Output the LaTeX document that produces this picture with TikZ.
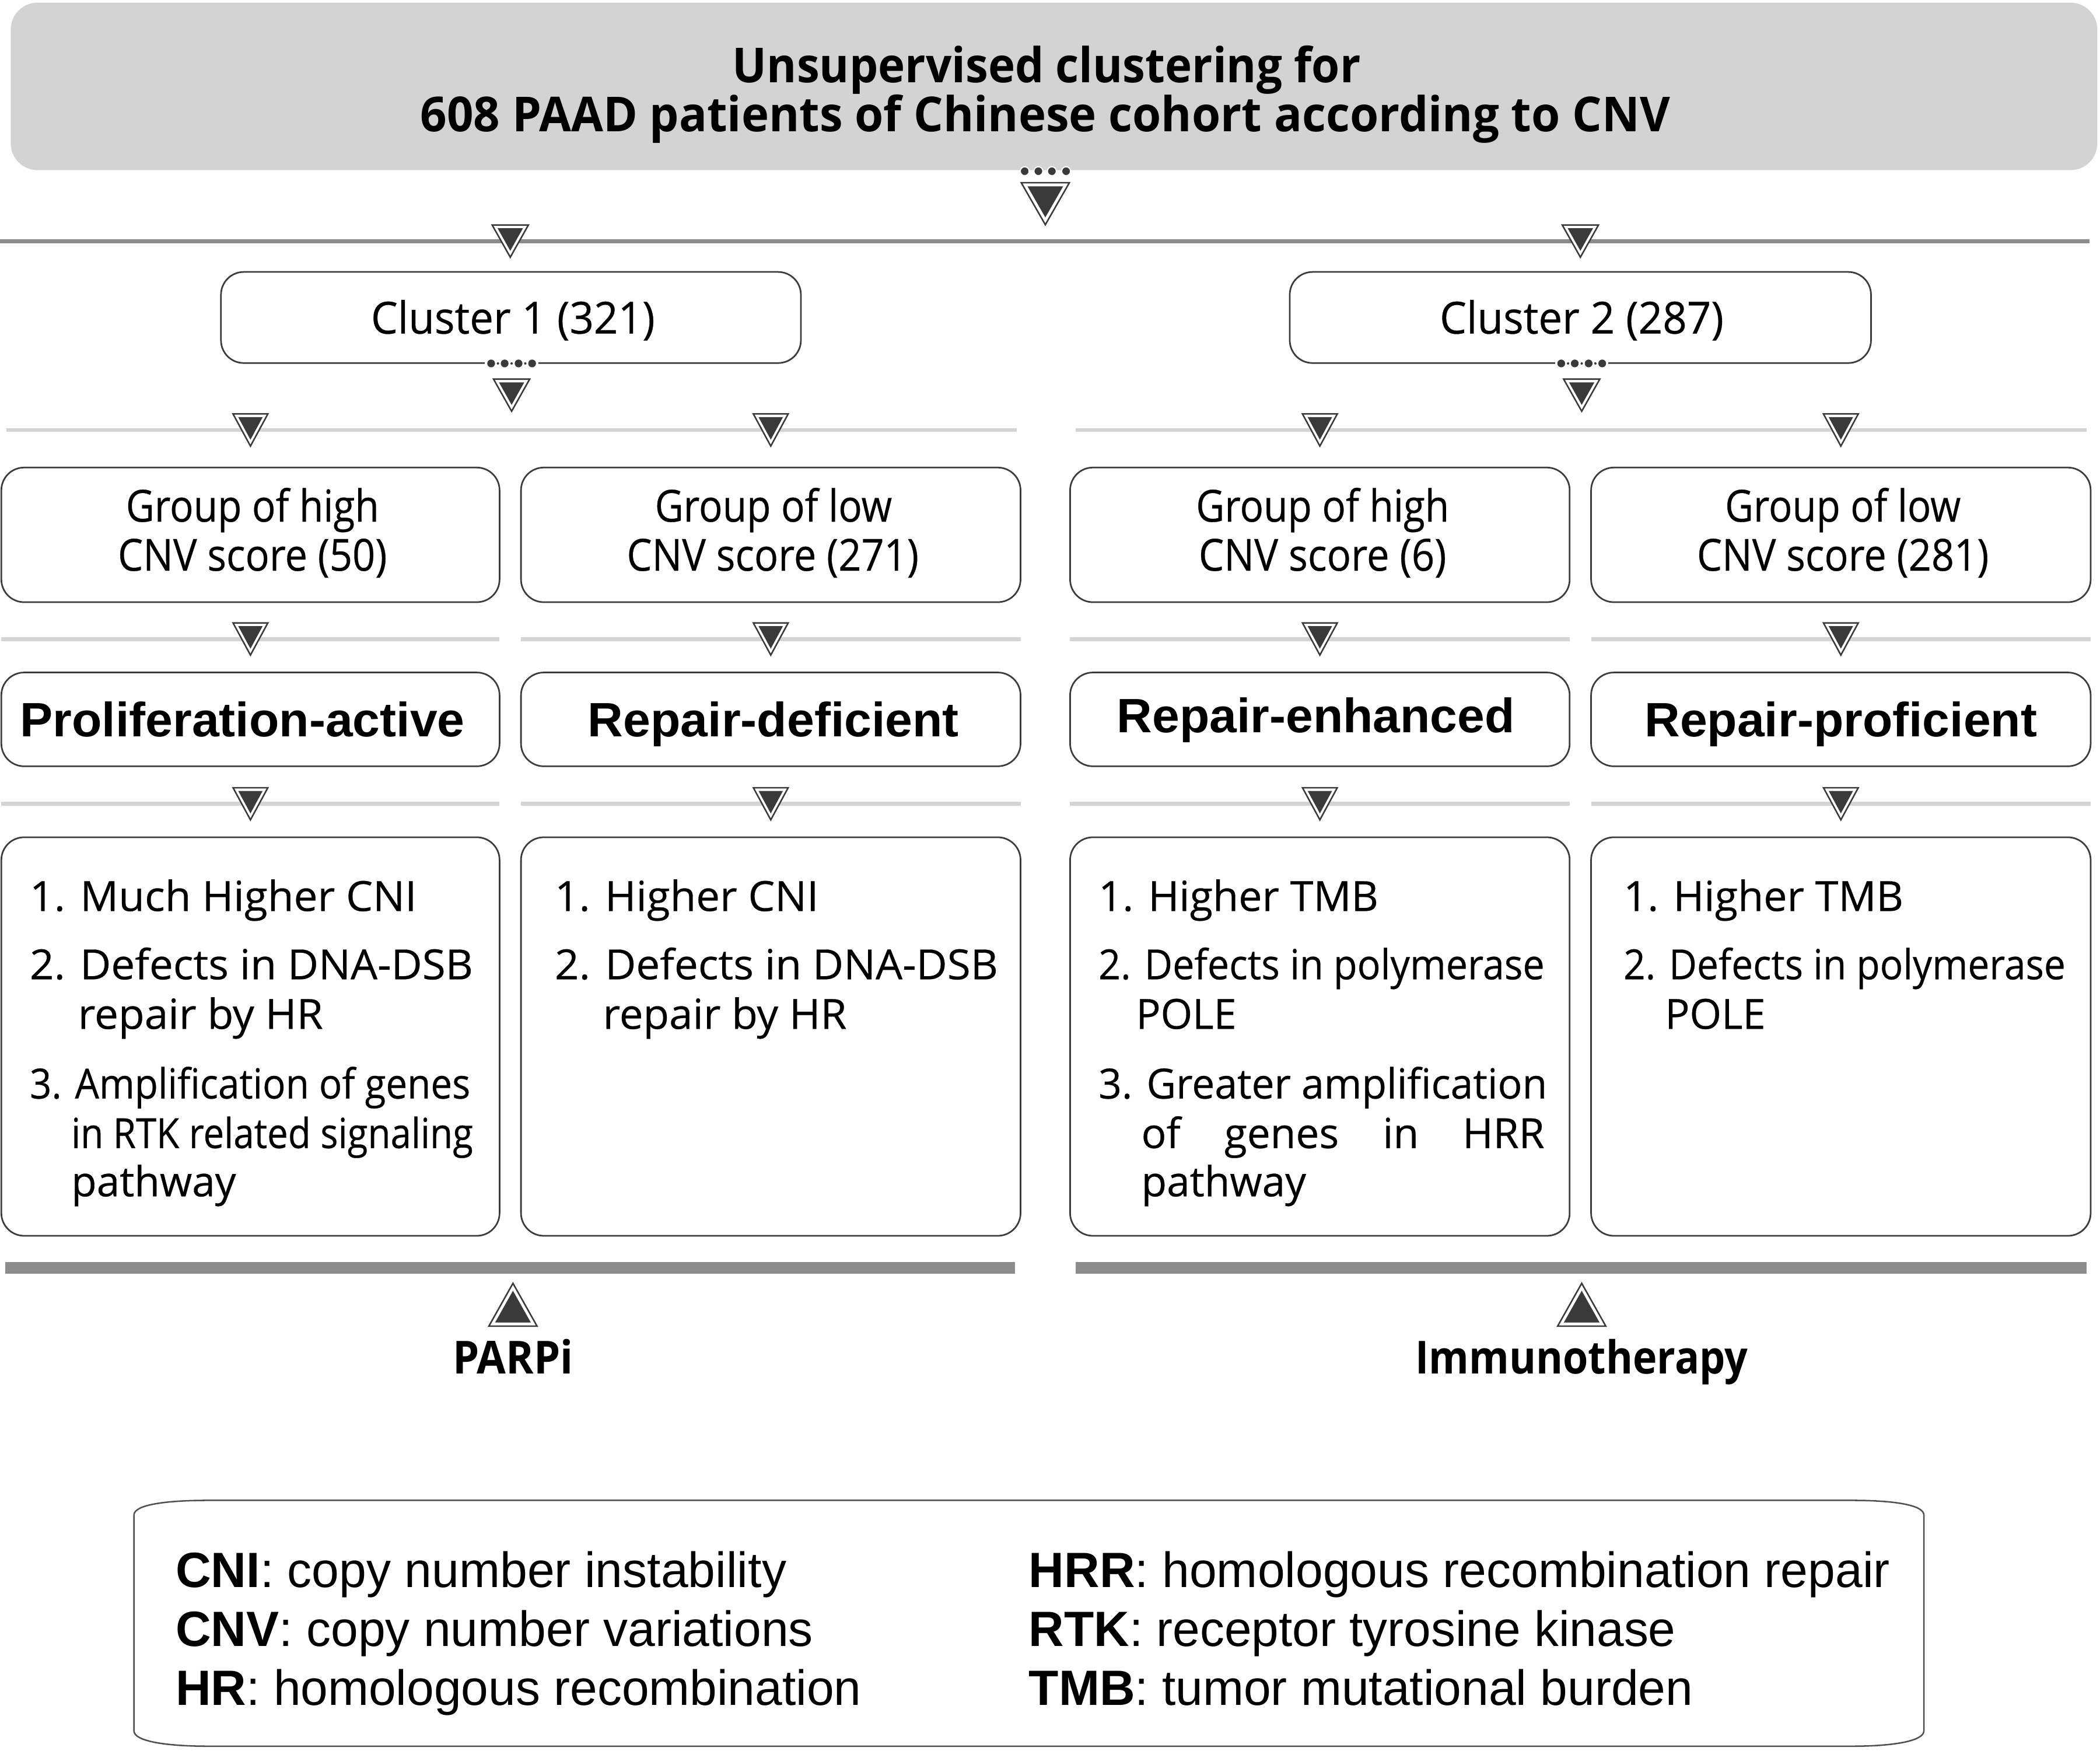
\documentclass[tikz,border=0pt]{standalone}
\usepackage{fontspec}
\usepackage{graphicx}
\setmainfont{Liberation Sans}
\newfontfamily\hum[FakeBold=0.4]{Open Sans}
\newfontfamily\humb{Open Sans Bold}
\newfontfamily\ari{Liberation Sans}
\definecolor{boxgray}{HTML}{D3D3D3}
\definecolor{linedark}{HTML}{8C8C8C}
\definecolor{linelight}{HTML}{D4D4D4}
\definecolor{tridark}{HTML}{3A3A3A}
\definecolor{border}{HTML}{3C3C3C}
\definecolor{legline}{HTML}{505050}
\newcommand\fw[2]{\resizebox{#1pt}{\height}{#2}}
\tikzset{
  pics/tdn/.style n args={3}{code={
    \filldraw[fill=white,draw=tridark,line width=1.1pt] (-#1/2,-#2/3) -- (#1/2,-#2/3) -- (0,2*#2/3) -- cycle;
    \fill[tridark] (-#3*#1/2,-#3*#2/3) -- (#3*#1/2,-#3*#2/3) -- (0,#3*2*#2/3) -- cycle;
  }},
  pics/tup/.style n args={3}{code={
    \filldraw[fill=white,draw=tridark,line width=1.1pt] (-#1/2,#2/3) -- (#1/2,#2/3) -- (0,-2*#2/3) -- cycle;
    \fill[tridark] (-#3*#1/2,#3*#2/3) -- (#3*#1/2,#3*#2/3) -- (0,-#3*2*#2/3) -- cycle;
  }},
}
\begin{document}
\begin{tikzpicture}[x=1pt,y=-1pt,
  rbox/.style={draw=border,line width=1.2pt,fill=white,rounded corners=17pt,inner sep=0pt},
  ttl/.style={font=\humb\fontsize{36}{40}\selectfont,anchor=base,inner sep=0pt},
  grp/.style={font=\hum\fontsize{33}{36}\selectfont,anchor=base,inner sep=0pt},
  typ/.style={font=\ari\bfseries\fontsize{36}{40}\selectfont,anchor=base,inner sep=0pt},
  dsc/.style={font=\hum\fontsize{31}{36}\selectfont,anchor=base west,inner sep=0pt},
  leg/.style={font=\ari\fontsize{37}{42}\selectfont,anchor=base west,inner sep=0pt},
  thr/.style={font=\humb\fontsize{34}{38}\selectfont,anchor=base,inner sep=0pt},
  lightline/.style={linelight,line width=3pt},
  darkline/.style={linedark,line width=3pt},
  dot/.style={fill=tridark},
]
\useasboundingbox (0,0) rectangle (1568,1307);

% ---------- header ----------
\node[fill=boxgray,rounded corners=20pt,minimum width=1558pt,minimum height=125pt,inner sep=0pt] (top) at (787,64.5) {};
\node[ttl] (t1) at (781.5,61.7) {\fw{469}{Unsupervised clustering for}};
\node[ttl] (t2) at (780.5,98.4) {\fw{933}{608 PAAD patients of Chinese cohort according to CNV}};
\foreach \x in {765.1,775.3,785.4,796.0}
  \filldraw[tridark,draw=white,line width=0.8pt] (\x,127.8) circle[radius=3.3pt];
\pic at (780.5,146.8) {tdn={36}{31.4}{0.74}};

% ---------- separator lines ----------
\draw[darkline] (0,180) -- (1560,180);
\draw[lightline] (5,321) -- (759,321);
\draw[lightline] (803,321) -- (1558,321);
\foreach \a/\b in {1/373,389/762,799/1172,1188/1561}{
  \draw[lightline] (\a,477) -- (\b,477);
  \draw[lightline] (\a,600) -- (\b,600);
}
\fill[linedark] (4,942) rectangle (758,951);
\fill[linedark] (803,942) rectangle (1558,951);

% ---------- clusters ----------
\node[rbox,minimum width=433pt,minimum height=68pt] (c1) at (381.5,237) {};
\node[rbox,minimum width=434pt,minimum height=68pt] (c2) at (1180,237) {};
\node[grp] (c1t) at (383,249) {\fw{212}{Cluster 1 (321)}};
\node[grp] (c2t) at (1181,249) {\fw{212}{Cluster 2 (287)}};
\foreach \cx in {382,1181}{
  \fill[white] (\cx-20,268) rectangle (\cx+20,274.5);
  \foreach \d in {-15.3,-5.2,5.2,15.3}
    \fill[dot] (\cx+\d,271.3) circle[radius=2.9pt];
  \foreach \d in {-10.2,0,10.2}
    \fill[dot] (\cx+\d,271.3) circle[radius=0.9pt];
}

% ---------- group boxes ----------
\node[rbox,minimum width=372pt,minimum height=100.5pt] (g1) at (187,399.25) {};
\node[rbox,minimum width=373pt,minimum height=100.5pt] (g2) at (575.5,399.25) {};
\node[rbox,minimum width=373pt,minimum height=100.5pt] (g3) at (985.5,399.25) {};
\node[rbox,minimum width=373pt,minimum height=100.5pt] (g4) at (1374.5,399.25) {};
\node[grp] (g1a) at (188.5,389.4) {\fw{189}{Group of high}};
\node[grp] (g1b) at (188.5,426) {\fw{201}{CNV score (50)}};
\node[grp] (g2a) at (577.5,389.4) {\fw{177}{Group of low}};
\node[grp] (g2b) at (577,426) {\fw{218}{CNV score (271)}};
\node[grp] (g3a) at (987.5,389.4) {\fw{189}{Group of high}};
\node[grp] (g3b) at (987.5,426) {\fw{185}{CNV score (6)}};
\node[grp] (g4a) at (1376,389.4) {\fw{176}{Group of low}};
\node[grp] (g4b) at (1376,426) {\fw{218}{CNV score (281)}};

% ---------- type boxes ----------
\node[rbox,minimum width=372pt,minimum height=70pt] (p1) at (187,537) {};
\node[rbox,minimum width=373pt,minimum height=70pt] (p2) at (575.5,537) {};
\node[rbox,minimum width=373pt,minimum height=70pt] (p3) at (985.5,537) {};
\node[rbox,minimum width=373pt,minimum height=70pt] (p4) at (1374.5,537) {};
\node[typ] (p1t) at (181,550) {\fw{332}{Proliferation-active}};
\node[typ] (p2t) at (577.5,550) {\fw{277}{Repair-deficient}};
\node[typ] (p3t) at (982.5,547) {\fw{297}{Repair-enhanced}};
\node[typ] (p4t) at (1374.5,550) {\fw{293}{Repair-proficient}};

% ---------- description boxes ----------
\node[rbox,minimum width=372pt,minimum height=297.5pt] (d1) at (187,773.75) {};
\node[rbox,minimum width=373pt,minimum height=297.5pt] (d2) at (575.5,773.75) {};
\node[rbox,minimum width=373pt,minimum height=297.5pt] (d3) at (985.5,773.75) {};
\node[rbox,minimum width=373pt,minimum height=297.5pt] (d4) at (1374.5,773.75) {};

\node[dsc] (d1l1) at (22,680) {\fw{289}{1. Much Higher CNI}};
\node[dsc] (d1l2) at (22,731) {\fw{331}{2. Defects in DNA-DSB}};
\node[dsc] (d1l3) at (58,768) {\fw{183}{repair by HR}};
\node[dsc] (d1l4) at (22,820) {\fw{329}{3. Amplification of genes}};
\node[dsc] (d1l5) at (53,857) {\fw{300}{in RTK related signaling}};
\node[dsc] (d1l6) at (53,893) {\fw{123}{pathway}};

\node[dsc] (d2l1) at (414,680) {\fw{197}{1. Higher CNI}};
\node[dsc] (d2l2) at (414,731) {\fw{331}{2. Defects in DNA-DSB}};
\node[dsc] (d2l3) at (450,768) {\fw{182}{repair by HR}};

\node[dsc] (d3l1) at (820,680) {\fw{209}{1. Higher TMB}};
\node[dsc] (d3l2) at (820,731) {\fw{333}{2. Defects in polymerase}};
\node[dsc] (d3l3) at (848,768) {\fw{75}{POLE}};
\node[dsc] (d3l4) at (820,820) {\fw{335}{3. Greater amplification}};
\node[dsc] (d3l5) at (852,857) {\makebox[301pt][s]{of genes in HRR}};
\node[dsc] (d3l6) at (852,893) {\fw{123}{pathway}};

\node[dsc] (d4l1) at (1212,680) {\fw{209}{1. Higher TMB}};
\node[dsc] (d4l2) at (1212,731) {\fw{330}{2. Defects in polymerase}};
\node[dsc] (d4l3) at (1243,768) {\fw{75}{POLE}};

% ---------- triangles ----------
\pic at (381,176) {tdn={27}{24}{0.7}};
\pic at (1180,176) {tdn={27}{24}{0.7}};
\pic at (382,291) {tdn={27}{24}{0.7}};
\pic at (1181,291) {tdn={27}{24}{0.7}};
\foreach \x in {187,575.5,985.5,1374.5}{
  \pic at (\x,317) {tdn={26}{24}{0.7}};
  \pic at (\x,473) {tdn={26}{24}{0.7}};
  \pic at (\x,596) {tdn={26}{24}{0.7}};
}
\pic at (383,979.3) {tup={36}{32}{0.74}};
\pic at (1181,979.3) {tup={36}{32}{0.74}};

\node[thr] (parp) at (383,1025.7) {\fw{90}{PARPi}};
\node[thr] (immu) at (1181,1025.7) {\fw{248}{Immunotherapy}};

% ---------- legend ----------
\draw[legline,line width=1.1pt] (100,1131) -- (100,1292)
  .. controls (100,1300) and (125,1303.5) .. (155,1303.5) -- (1383,1303.5)
  .. controls (1412,1303.5) and (1436.5,1300) .. (1436.5,1292) -- (1436.5,1131)
  .. controls (1436.5,1123) and (1412,1120) .. (1383,1120) -- (155,1120)
  .. controls (125,1120) and (100,1123) .. (100,1131) -- cycle;
\coordinate (legend) at (768,1211);
\node[leg] (l1) at (131,1185) {\fw{456}{\textbf{CNI}: copy number instability}};
\node[leg] (l2) at (131,1229) {\fw{476}{\textbf{CNV}: copy number variations}};
\node[leg] (l3) at (131,1273) {\fw{512}{\textbf{HR}: homologous recombination}};
\node[leg] (l4) at (768,1185) {\fw{643}{\textbf{HRR}: homologous recombination repair}};
\node[leg] (l5) at (768,1229) {\fw{483}{\textbf{RTK}: receptor tyrosine kinase}};
\node[leg] (l6) at (768,1273) {\fw{496}{\textbf{TMB}: tumor mutational burden}};
\end{tikzpicture}
\end{document}
